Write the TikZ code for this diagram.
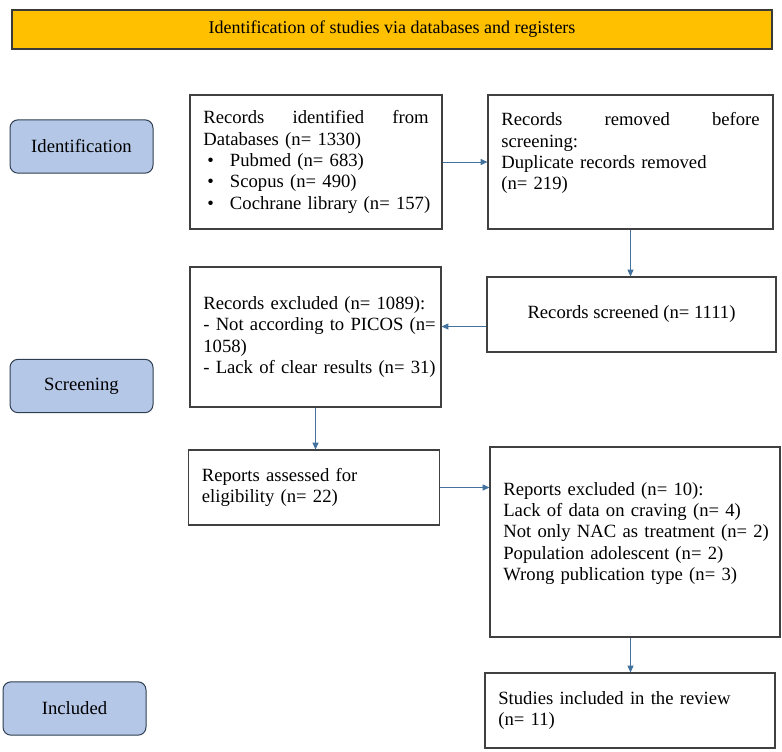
\documentclass[tikz,border=0pt]{standalone}
\usepackage{fontspec}
\setmainfont{Liberation Serif}
\usetikzlibrary{arrows.meta}

\definecolor{titlegold}{HTML}{FFC000}
\definecolor{titleline}{HTML}{3A3A3A}
\definecolor{phaseblue}{HTML}{B4C7E7}
\definecolor{phaseline}{HTML}{2F3E50}
\definecolor{boxline}{HTML}{404040}
\definecolor{flowblue}{HTML}{41719C}

\newcommand{\bulletline}[1]{\mbox{\makebox[20pt][l]{\hspace{3pt}\textbullet}#1}}

\begin{document}
\begin{tikzpicture}[
    x=0.75pt,
    y=-0.75pt,
    every node/.style={font=\fontsize{14}{16}\selectfont, inner xsep=10pt, inner ysep=0pt},
    record/.style={draw=boxline, line width=0.9pt, align=left},
    phase/.style={draw=phaseline, fill=phaseblue, rounded corners=6pt, line width=0.75pt,
                  minimum width=107.25pt, minimum height=40pt},
    flow/.style={draw=flowblue, line width=0.6pt, -{Triangle[length=5pt, width=4.5pt]}}]

    \useasboundingbox (0,0) rectangle (782,751);

    % Header
    \node[draw=titleline, fill=titlegold, line width=1.1pt, minimum width=570pt,
          minimum height=29.25pt, font=\fontsize{13.5}{16}\selectfont]
          (header) at (392,29.5) {Identification of studies via databases and registers};

    % Phases
    \node[phase] (identification) at (81.5,146.5) {Identification};
    \node[phase] (screening) at (81.5,386) {Screening};
    \node[phase] (included) at (74.5,708.5) {Included};

    % Identification
    \node[record, minimum width=189pt, minimum height=100.5pt, text width=169pt]
          (identified) at (316,162)
          {\makebox[169pt][s]{Records\hfill identified\hfill from}\\
           \mbox{Databases (n= 1330)}\\
           \bulletline{Pubmed (n= 683)}\\
           \bulletline{Scopus (n= 490)}\\
           \bulletline{Cochrane library (n= 157)}};

    \node[record, minimum width=213.75pt, minimum height=100.5pt, text width=193.75pt]
          (removed) at (630.5,162)
          {\makebox[193.75pt][s]{Records\hfill removed\hfill before}\\
           screening:\\
           \mbox{Duplicate records removed}\\
           (n= 219)\\
           \mbox{}};

    % Screening
    \node[record, align=center, minimum width=216.75pt, minimum height=56.25pt]
          (screened) at (631.5,314.5) {Records screened (n= 1111)};

    \node[record, minimum width=188.25pt, minimum height=105pt, text width=168.25pt]
          (excluded) at (315.5,337)
          {\mbox{Records excluded (n= 1089):}\\
           \mbox{- Not according to PICOS (n=}\\
           1058)\\
           \mbox{- Lack of clear results (n= 31)}};

    \node[record, minimum width=188.25pt, minimum height=56.25pt, text width=168.25pt]
          (assessed) at (314,487.5)
          {Reports assessed for\\
           eligibility (n= 22)};

    \node[record, minimum width=217.5pt, minimum height=142.5pt, text width=197.5pt]
          (reports) at (635,542)
          {\mbox{Reports excluded (n= 10):}\\
           \mbox{Lack of data on craving (n= 4)}\\
           \mbox{Not only NAC as treatment (n= 2)}\\
           \mbox{Population adolescent (n= 2)}\\
           \mbox{Wrong publication type (n= 3)}\\
           \mbox{}};

    % Included
    \node[record, minimum width=217.5pt, minimum height=56.25pt, text width=197.5pt]
          (studies) at (630,710.5)
          {\mbox{Studies included in the review}\\
           (n= 11)};

    % Flow
    \draw[flow] (identified) -- (removed);
    \draw[flow] (removed.south) -- (removed.south |- screened.north);
    \draw[flow] ([yshift=-9pt]screened.west) -- ([yshift=-9pt]screened.west -| excluded.east);
    \draw[flow] (excluded.south) -- (excluded.south |- assessed.north);
    \draw[flow] (assessed.east) -- (assessed.east -| reports.west);
    \draw[flow] (removed.south |- reports.south) -- (removed.south |- studies.north);
  \end{tikzpicture}
\end{document}
